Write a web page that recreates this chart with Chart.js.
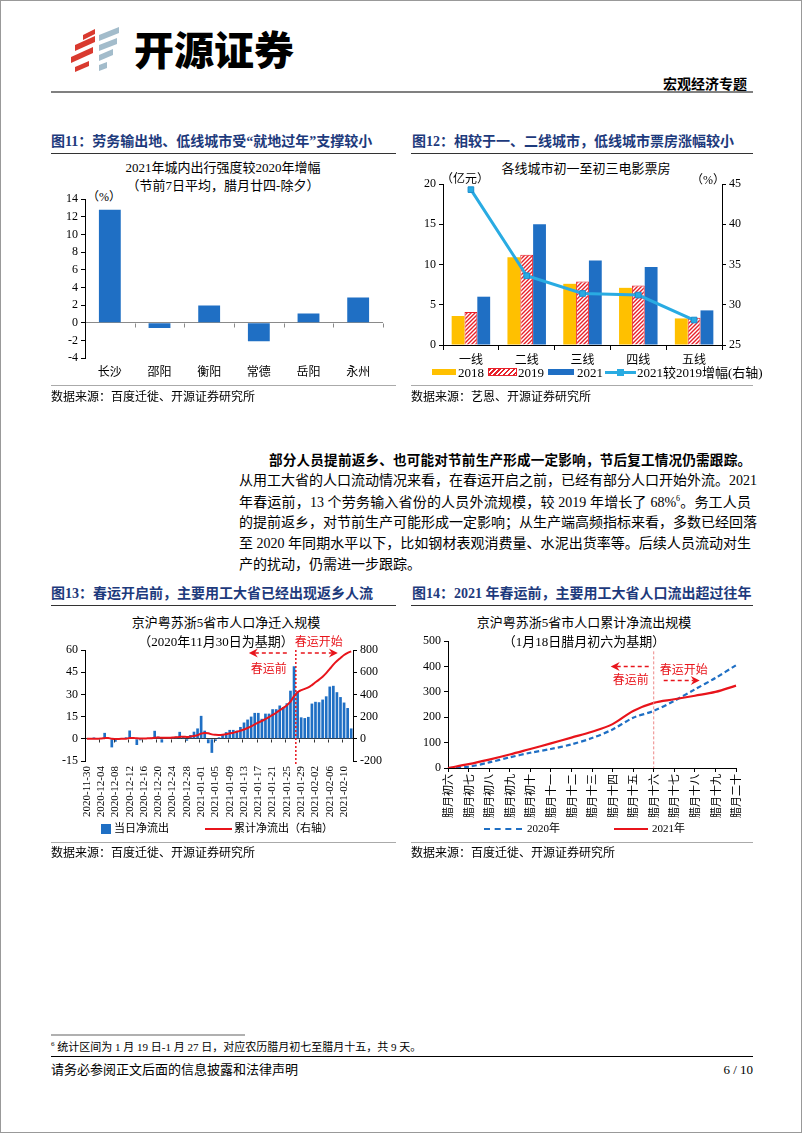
<!DOCTYPE html>
<html>
<head>
<meta charset="utf-8">
<script src="https://cdn.jsdelivr.net/npm/chart.js@4.4.0/dist/chart.umd.min.js"></script>
<style>
body { margin: 0; background: #fff; }
#page { position: relative; width: 800px; height: 1131px; border: 1px solid #999; background: #fff; overflow: hidden;
  font-family: 'Liberation Serif', 'Noto Sans CJK SC', serif; color: #000; }
.abs { position: absolute; }
.t { position: absolute; white-space: nowrap; line-height: 1; }
.head { font-family: 'Liberation Serif', 'Noto Sans CJK SC', serif; font-weight: bold; font-size: 14px; color: #1d3a7c; }
.ctitle { font-size: 13px; text-align: center; }
.src { font-size: 12px; }
.body { font-size: 14px; width: 512px; left: 238px; text-align: justify; text-align-last: justify; }
.hline { position: absolute; height: 0; }
.lg { position: absolute; }
</style>
</head>
<body>
<div id="page">

<svg class="abs" style="left:68px;top:26px" width="52" height="46">
  <g fill="#d93a2f">
    <polygon points="14,8 26,2 26,7 14,13"/>
    <polygon points="6,18 26,9 26,15 6,24"/>
    <polygon points="2,30 24,20 24,26 2,36"/>
    <polygon points="6,40 20,34 20,39 6,45"/>
  </g>
  <g fill="#a3bccb">
    <polygon points="30,8 50,0 50,6 30,14"/>
    <polygon points="30,18 48,11 48,17 30,24"/>
    <polygon points="30,28 44,22 44,28 30,34"/>
    <polygon points="30,38 38,35 38,41 30,44"/>
  </g>
</svg>
<div class="t" style="left:133px;top:27px;font-family:'Noto Sans CJK SC';font-weight:900;font-size:40px;">开源证券</div>
<div class="t" style="left:662px;top:75px;font-family:'Noto Sans CJK SC';font-weight:bold;font-size:14px;">宏观经济专题</div>
<div class="hline" style="left:50px;top:90px;width:702px;border-top:2px solid #808080;"></div>

<div class="t head" style="left:50px;top:134px;">图11：劳务输出地、低线城市受“就地过年”支撑较小</div>
<div class="t head" style="left:411px;top:134px;">图12：相较于一、二线城市，低线城市票房涨幅较小</div>
<div class="hline" style="left:50px;top:152px;width:345px;border-top:1.5px solid #333;"></div>
<div class="hline" style="left:410px;top:152px;width:342px;border-top:1.5px solid #333;"></div>

<div class="t ctitle" style="left:72px;width:300px;top:160px;">2021年城内出行强度较2020年增幅</div>
<div class="t ctitle" style="left:72px;width:300px;top:178px;">（节前7日平均，腊月廿四-除夕）</div>
<div class="t" style="left:86px;top:190px;font-size:12px;">（%）</div>
<canvas id="c1" class="abs" style="left:50px;top:188px" width="345" height="192"></canvas>

<div class="t ctitle" style="left:435px;width:300px;top:161px;">各线城市初一至初三电影票房</div>
<canvas id="c2" class="abs" style="left:410px;top:172px" width="342" height="194"></canvas>
<div class="t" style="left:440px;top:172px;font-size:12px;">（亿元）</div>
<div class="t" style="left:690px;top:173px;font-size:12px;">（%）</div>

<div class="lg" style="left:431px;top:368px;width:24px;height:6px;background:#ffc000;"></div>
<div class="t" style="left:457px;top:365px;font-size:13px;">2018</div>
<div class="lg" style="left:487px;top:367px;width:27px;height:6px;border:1px solid #e8202a;background:repeating-linear-gradient(135deg,#e8202a 0 1.5px,#fff 1.5px 3.5px);"></div>
<div class="t" style="left:517px;top:365px;font-size:13px;">2019</div>
<div class="lg" style="left:547px;top:368px;width:26px;height:6px;background:#1f6fc4;"></div>
<div class="t" style="left:576px;top:365px;font-size:13px;">2021</div>
<div class="lg" style="left:604px;top:370px;width:31px;height:3px;background:#29abe2;"></div>
<div class="lg" style="left:616px;top:368px;width:7px;height:7px;background:#29abe2;"></div>
<div class="t" style="left:636px;top:365px;font-size:13px;">2021较2019增幅(右轴)</div>

<div class="hline" style="left:50px;top:384px;width:345px;border-top:1px solid #aaa;"></div>
<div class="hline" style="left:410px;top:384px;width:342px;border-top:1px solid #aaa;"></div>
<div class="t src" style="left:50px;top:390px;">数据来源：百度迁徙、开源证券研究所</div>
<div class="t src" style="left:410px;top:390px;">数据来源：艺恩、开源证券研究所</div>

<div class="t" style="left:268px;width:482px;top:453px;font-weight:bold;font-size:13.6px;text-align:justify;text-align-last:justify;">部分人员提前返乡、也可能对节前生产形成一定影响，节后复工情况仍需跟踪。</div>
<div class="t body" style="top:473px;">从用工大省的人口流动情况来看，在春运开启之前，已经有部分人口开始外流。2021</div>
<div class="t body" style="top:494px;">年春运前，13 个劳务输入省份的人员外流规模，较 2019 年增长了 68%<sup style="font-size:8px;">6</sup>。务工人员</div>
<div class="t body" style="top:515px;">的提前返乡，对节前生产可能形成一定影响；从生产端高频指标来看，多数已经回落</div>
<div class="t body" style="top:536px;">至 2020 年同期水平以下，比如钢材表观消费量、水泥出货率等。后续人员流动对生</div>
<div class="t" style="left:238px;top:557px;font-size:14px;">产的扰动，仍需进一步跟踪。</div>

<div class="t head" style="left:50px;top:586px;">图13：春运开启前，主要用工大省已经出现返乡人流</div>
<div class="t head" style="left:411px;top:586px;">图14：2021 年春运前，主要用工大省人口流出超过往年</div>
<div class="hline" style="left:50px;top:604px;width:345px;border-top:1.5px solid #333;"></div>
<div class="hline" style="left:410px;top:604px;width:342px;border-top:1.5px solid #333;"></div>

<canvas id="c3" class="abs" style="left:50px;top:630px" width="345" height="192"></canvas>
<div class="t ctitle" style="left:75px;width:300px;top:615px;">京沪粤苏浙5省市人口净迁入规模</div>
<div class="t ctitle" style="left:65px;width:300px;top:634px;">（2020年11月30日为基期）</div>
<div class="lg" style="left:100px;top:823px;width:10px;height:10px;background:#1f6fc4;"></div>
<div class="t" style="left:113px;top:822px;font-size:11px;">当日净流出</div>
<div class="lg" style="left:204px;top:827px;width:27px;height:2px;background:#e8141b;"></div>
<div class="t" style="left:233px;top:822px;font-size:11px;">累计净流出（右轴）</div>

<canvas id="c4" class="abs" style="left:410px;top:630px" width="342" height="192"></canvas>
<div class="t ctitle" style="left:433px;width:300px;top:615px;">京沪粤苏浙5省市人口累计净流出规模</div>
<div class="t ctitle" style="left:433px;width:300px;top:634px;">（1月18日腊月初六为基期）</div>
<div class="lg" style="left:483px;top:827px;width:38px;height:0;border-top:2px dashed #1f6fc4;"></div>
<div class="t" style="left:526px;top:822px;font-size:11px;">2020年</div>
<div class="lg" style="left:613px;top:827px;width:34px;height:2px;background:#e8141b;"></div>
<div class="t" style="left:651px;top:822px;font-size:11px;">2021年</div>

<div class="hline" style="left:50px;top:841px;width:345px;border-top:1px solid #aaa;"></div>
<div class="hline" style="left:410px;top:841px;width:342px;border-top:1px solid #aaa;"></div>
<div class="t src" style="left:50px;top:846px;">数据来源：百度迁徙、开源证券研究所</div>
<div class="t src" style="left:410px;top:846px;">数据来源：百度迁徙、开源证券研究所</div>

<div class="hline" style="left:50px;top:1033px;width:194px;border-top:2px solid #b0b0b0;"></div>
<div class="t" style="left:50px;top:1040px;font-size:11px;"><sup style="font-size:7px;">6</sup> 统计区间为 1 月 19 日-1 月 27 日，对应农历腊月初七至腊月十五，共 9 天。</div>
<div class="hline" style="left:50px;top:1055px;width:702px;border-top:1.5px solid #000;"></div>
<div class="t" style="left:50px;top:1062px;font-size:13px;">请务必参阅正文后面的信息披露和法律声明</div>
<div class="t" style="left:700px;width:52px;text-align:right;top:1062px;font-size:13px;">6 / 10</div>

</div>

<script>
// 图11 城内出行强度
const cities = ['长沙', '邵阳', '衡阳', '常德', '岳阳', '永州'];
const tripGrowth = [12.8, -0.6, 1.95, -2.1, 1.05, 2.85];

// 图12 电影票房
const tiers = ['一线', '二线', '三线', '四线', '五线'];
const box2018 = [3.6, 10.9, 7.6, 7.1, 3.3];
const box2019 = [4.1, 11.2, 7.9, 7.4, 3.4];
const box2021 = [6.0, 15.0, 10.5, 9.7, 4.3];
const boxGrowth = [44.3, 33.6, 31.4, 31.2, 28.1];

// 图13 净迁入规模
const dates = [
  '2020-11-30', '2020-12-01', '2020-12-02', '2020-12-03', '2020-12-04', '2020-12-05', '2020-12-06', '2020-12-07',
  '2020-12-08', '2020-12-09', '2020-12-10', '2020-12-11', '2020-12-12', '2020-12-13', '2020-12-14', '2020-12-15',
  '2020-12-16', '2020-12-17', '2020-12-18', '2020-12-19', '2020-12-20', '2020-12-21', '2020-12-22', '2020-12-23',
  '2020-12-24', '2020-12-25', '2020-12-26', '2020-12-27', '2020-12-28', '2020-12-29', '2020-12-30', '2020-12-31',
  '2021-01-01', '2021-01-02', '2021-01-03', '2021-01-04', '2021-01-05', '2021-01-06', '2021-01-07', '2021-01-08',
  '2021-01-09', '2021-01-10', '2021-01-11', '2021-01-12', '2021-01-13', '2021-01-14', '2021-01-15', '2021-01-16',
  '2021-01-17', '2021-01-18', '2021-01-19', '2021-01-20', '2021-01-21', '2021-01-22', '2021-01-23', '2021-01-24',
  '2021-01-25', '2021-01-26', '2021-01-27', '2021-01-28', '2021-01-29', '2021-01-30', '2021-01-31', '2021-02-01',
  '2021-02-02', '2021-02-03', '2021-02-04', '2021-02-05', '2021-02-06', '2021-02-07', '2021-02-08', '2021-02-09',
  '2021-02-10', '2021-02-11', '2021-02-12'
];
const dailyNet = [
  0.3, 0.2, 0.9, 0.3, 0.5, 4.0, 0.5, -5.8, -2.0, 0.3, 0.5, 1.0, 5.6, 0.8, -4.2, -1.0,
  0.3, 0.5, 0.8, 5.4, 1.5, -2.5, 0.3, 0.8, 1.0, 1.5, 4.7, 1.2, -1.3, 2.5, 4.8, 7.0,
  15.5, 5.5, -3.0, -9.5, -1.5, 1.0, 3.0, 4.5, 6.0, 6.0, 5.5, 8.0, 11.0, 13.0, 15.0, 17.5,
  17.5, 13.5, 17.0, 17.0, 20.0, 20.0, 22.5, 21.5, 24.0, 32.5, 49.0, 32.0, 14.5, 14.0, 14.8, 23.8,
  25.0, 24.7, 26.5, 28.7, 35.3, 35.8, 31.5, 28.2, 24.5, 20.8, 7.0
];
const cumNet = [
  0, 0, 1, 1, 2, 6, 7, 1, -1, -1, 0, 1, 7, 8, 4, 3,
  3, 4, 5, 10, 12, 9, 9, 10, 11, 13, 17, 19, 17, 20, 25, 32,
  47, 53, 50, 40, 36, 35, 37, 41, 47, 55, 63, 73, 84, 97, 112, 130,
  147, 161, 178, 195, 215, 235, 257, 279, 303, 335, 384, 420, 438, 450, 463, 484,
  509, 533, 560, 592, 630, 668, 700, 728, 755, 775, 788
];

// 图14 累计净流出
const lunarDays = ['腊月初六', '腊月初七', '腊月初八', '腊月初九', '腊月初十', '腊月十一', '腊月十二', '腊月十三',
  '腊月十四', '腊月十五', '腊月十六', '腊月十七', '腊月十八', '腊月十九', '腊月二十'];
const outflow2020 = [0, 5, 22, 42, 60, 75, 93, 118, 152, 198, 225, 265, 310, 355, 405];
const outflow2021 = [0, 15, 33, 53, 75, 97, 120, 143, 173, 225, 257, 271, 285, 300, 325];

const BLUE = '#1f6fc4';
const RED = '#e8141b';

Chart.defaults.font.family = "'Liberation Serif', 'Noto Sans CJK SC', serif";
Chart.defaults.color = '#000';

function hatch() {
  const c = document.createElement('canvas');
  c.width = 4; c.height = 4;
  const g = c.getContext('2d');
  g.fillStyle = '#fff';
  g.fillRect(0, 0, 4, 4);
  g.strokeStyle = '#e8202a';
  g.lineWidth = 1.4;
  g.beginPath();
  g.moveTo(0, 4); g.lineTo(4, 0);
  g.moveTo(-2, 2); g.lineTo(2, -2);
  g.moveTo(2, 6); g.lineTo(6, 2);
  g.stroke();
  return document.getElementById('c2').getContext('2d').createPattern(c, 'repeat');
}

function zeroLine(color) {
  return function (c) { return c.tick && c.tick.value === 0 ? color : 'rgba(0,0,0,0)'; };
}

function arrow(ctx, x1, x2, y) {
  const d = Math.sign(x2 - x1);
  ctx.save();
  ctx.strokeStyle = RED;
  ctx.fillStyle = RED;
  ctx.lineWidth = 1.5;
  ctx.setLineDash([4, 3]);
  ctx.beginPath();
  ctx.moveTo(x1, y);
  ctx.lineTo(x2 - d * 6, y);
  ctx.stroke();
  ctx.setLineDash([]);
  ctx.beginPath();
  ctx.moveTo(x2, y);
  ctx.lineTo(x2 - d * 9, y - 4.5);
  ctx.lineTo(x2 - d * 6, y);
  ctx.lineTo(x2 - d * 9, y + 4.5);
  ctx.closePath();
  ctx.fill();
  ctx.restore();
}

function redText(ctx, txt, x, y) {
  ctx.save();
  ctx.fillStyle = RED;
  ctx.font = "12px 'Noto Sans CJK SC'";
  ctx.textAlign = 'center';
  ctx.textBaseline = 'middle';
  ctx.fillText(txt, x, y);
  ctx.restore();
}

// 图11
new Chart(document.getElementById('c1'), {
  type: 'bar',
  data: {
    labels: cities,
    datasets: [{ data: tripGrowth, backgroundColor: BLUE, barPercentage: 1, categoryPercentage: 0.44 }]
  },
  options: {
    responsive: false,
    animation: false,
    layout: { padding: { top: 5, right: 13, left: 0, bottom: 0 } },
    plugins: { legend: { display: false }, tooltip: { enabled: false } },
    scales: {
      x: {
        grid: { display: false, drawTicks: false },
        border: { display: false },
        ticks: { color: '#000', font: { size: 12, family: "'Noto Sans CJK SC'" }, padding: 6 },
        afterFit: function (s) { s.height = 23; }
      },
      y: {
        min: -4, max: 14,
        ticks: { stepSize: 2, color: '#000', font: { size: 12 }, padding: 3 },
        border: { color: '#000' },
        grid: { color: zeroLine('#8a8a8a'), tickColor: '#000', tickLength: 4 },
        afterFit: function (s) { s.width = 34; }
      }
    }
  },
  plugins: [{
    id: 'zeroTicks1',
    afterDraw: function (chart) {
      const x = chart.scales.x, y = chart.scales.y, ctx = chart.ctx;
      const y0 = Math.round(y.getPixelForValue(0)) + 0.5;
      const step = (x.right - x.left) / cities.length;
      ctx.save();
      ctx.strokeStyle = '#8a8a8a';
      ctx.beginPath();
      for (let i = 1; i <= cities.length; i++) {
        const px = Math.round(x.left + i * step) + 0.5;
        ctx.moveTo(px, y0);
        ctx.lineTo(px, y0 + 4);
      }
      ctx.stroke();
      ctx.restore();
    }
  }]
});

// 图12
new Chart(document.getElementById('c2'), {
  type: 'bar',
  data: {
    labels: tiers,
    datasets: [
      { type: 'line', label: '2021较2019增幅(右轴)', data: boxGrowth, yAxisID: 'y2', order: 0,
        borderColor: '#29abe2', borderWidth: 3, tension: 0, pointStyle: 'rect', pointRadius: 4,
        pointBackgroundColor: '#29abe2', pointBorderColor: '#1b8ed0', pointBorderWidth: 1 },
      { label: '2018', data: box2018, backgroundColor: '#ffc000', order: 1, barPercentage: 1, categoryPercentage: 0.69 },
      { label: '2019', data: box2019, backgroundColor: hatch(), borderColor: '#e8202a', borderWidth: 1, order: 1, barPercentage: 1, categoryPercentage: 0.69 },
      { label: '2021', data: box2021, backgroundColor: BLUE, order: 1, barPercentage: 1, categoryPercentage: 0.69 }
    ]
  },
  options: {
    responsive: false,
    animation: false,
    layout: { padding: { top: 11, right: 0, left: 0, bottom: 0 } },
    plugins: { legend: { display: false }, tooltip: { enabled: false } },
    scales: {
      x: {
        grid: { drawOnChartArea: false, drawTicks: true, tickLength: 5, color: '#000', offset: true },
        border: { color: '#000' },
        ticks: { color: '#000', font: { size: 12, family: "'Noto Sans CJK SC'" }, padding: 2 },
        afterFit: function (s) { s.height = 22; }
      },
      y: {
        min: 0, max: 20,
        ticks: { stepSize: 5, color: '#000', font: { size: 12 }, padding: 3 },
        border: { color: '#000' },
        grid: { drawOnChartArea: false, color: '#000', tickLength: 4 },
        afterFit: function (s) { s.width = 32; }
      },
      y2: {
        position: 'right',
        min: 25, max: 45,
        ticks: { stepSize: 5, color: '#000', font: { size: 12 }, padding: 3 },
        border: { color: '#000' },
        grid: { drawOnChartArea: false, color: '#000', tickLength: 4 },
        afterFit: function (s) { s.width = 31; }
      }
    }
  }
});

// 图13
new Chart(document.getElementById('c3'), {
  type: 'bar',
  data: {
    labels: dates,
    datasets: [
      { type: 'line', label: '累计净流出（右轴）', data: cumNet, yAxisID: 'y2', order: 0,
        borderColor: RED, borderWidth: 2, pointRadius: 0, tension: 0.4 },
      { label: '当日净流出', data: dailyNet, backgroundColor: BLUE, order: 1, barPercentage: 0.75, categoryPercentage: 1 }
    ]
  },
  options: {
    responsive: false,
    animation: false,
    layout: { padding: { top: 19, right: 0, left: 0, bottom: 0 } },
    plugins: { legend: { display: false }, tooltip: { enabled: false } },
    scales: {
      x: {
        grid: { display: false, drawTicks: false },
        border: { display: false },
        ticks: {
          autoSkip: false, minRotation: 90, maxRotation: 90, color: '#000', font: { size: 11 }, padding: 5,
          callback: function (v, i) { return i % 4 === 0 ? dates[i] : ''; }
        },
        afterFit: function (s) { s.height = 62; }
      },
      y: {
        min: -15, max: 60,
        ticks: { stepSize: 15, color: '#000', font: { size: 12 }, padding: 3 },
        border: { color: '#000' },
        grid: { color: zeroLine('#333'), tickColor: '#000', tickLength: 4 },
        afterFit: function (s) { s.width = 34; }
      },
      y2: {
        position: 'right',
        min: -200, max: 800,
        ticks: { stepSize: 200, color: '#000', font: { size: 12 }, padding: 3 },
        border: { color: '#000' },
        grid: { drawOnChartArea: false, color: '#000', tickLength: 4 },
        afterFit: function (s) { s.width = 43; }
      }
    }
  },
  plugins: [{
    id: 'springFestival13',
    afterDraw: function (chart) {
      const x = chart.scales.x, y = chart.scales.y, ctx = chart.ctx;
      const step = (x.right - x.left) / dates.length;
      const y0 = Math.round(y.getPixelForValue(0)) + 0.5;
      ctx.save();
      ctx.strokeStyle = '#333';
      ctx.beginPath();
      for (let i = 4; i < dates.length; i += 4) {
        const px = Math.round(x.left + i * step) + 0.5;
        ctx.moveTo(px, y0);
        ctx.lineTo(px, y0 + 3);
      }
      ctx.stroke();
      const lx = x.getPixelForValue(58) + step / 2;
      ctx.strokeStyle = RED;
      ctx.lineWidth = 1.5;
      ctx.setLineDash([2, 2]);
      ctx.beginPath();
      ctx.moveTo(lx, chart.chartArea.top);
      ctx.lineTo(lx, chart.chartArea.bottom + 4);
      ctx.stroke();
      ctx.restore();
      arrow(ctx, lx - 9, lx - 47, chart.chartArea.top + 3);
      arrow(ctx, lx + 5, lx + 42, chart.chartArea.top + 3);
      redText(ctx, '春运前', lx - 27, chart.chartArea.top + 18);
      redText(ctx, '春运开始', lx + 23, chart.chartArea.top - 9);
    }
  }]
});

// 图14
new Chart(document.getElementById('c4'), {
  type: 'line',
  data: {
    labels: lunarDays,
    datasets: [
      { label: '2021年', data: outflow2021, borderColor: RED, borderWidth: 2.2, pointRadius: 0, tension: 0.35 },
      { label: '2020年', data: outflow2020, borderColor: BLUE, borderWidth: 2.2, borderDash: [5, 3], pointRadius: 0, tension: 0.3 }
    ]
  },
  options: {
    responsive: false,
    animation: false,
    layout: { padding: { top: 5, right: 17, left: 0, bottom: 0 } },
    plugins: { legend: { display: false }, tooltip: { enabled: false } },
    scales: {
      x: {
        offset: false,
        grid: { drawOnChartArea: false, drawTicks: true, tickLength: 4, color: '#000' },
        border: { color: '#000' },
        ticks: { autoSkip: false, minRotation: 90, maxRotation: 90, color: '#000', font: { size: 11, family: "'Noto Sans CJK SC'" }, padding: 2 },
        afterFit: function (s) { s.height = 55; }
      },
      y: {
        min: 0, max: 500,
        ticks: { stepSize: 100, color: '#000', font: { size: 12 }, padding: 3 },
        border: { color: '#000' },
        grid: { drawOnChartArea: false, color: '#000', tickLength: 4 },
        afterFit: function (s) { s.width = 37; }
      }
    }
  },
  plugins: [{
    id: 'springFestival14',
    afterDraw: function (chart) {
      const x = chart.scales.x, y = chart.scales.y, ctx = chart.ctx;
      const lx = x.getPixelForValue(10);
      ctx.save();
      ctx.strokeStyle = '#ee8888';
      ctx.lineWidth = 1;
      ctx.setLineDash([3, 2]);
      ctx.beginPath();
      ctx.moveTo(lx, y.getPixelForValue(460));
      ctx.lineTo(lx, y.getPixelForValue(0));
      ctx.stroke();
      ctx.restore();
      arrow(ctx, lx - 5, lx - 43, y.getPixelForValue(400));
      redText(ctx, '春运前', lx - 23, y.getPixelForValue(350));
      redText(ctx, '春运开始', lx + 30, y.getPixelForValue(390));
      arrow(ctx, lx + 10, lx + 46, y.getPixelForValue(345));
    }
  }]
});
</script>
</body>
</html>
